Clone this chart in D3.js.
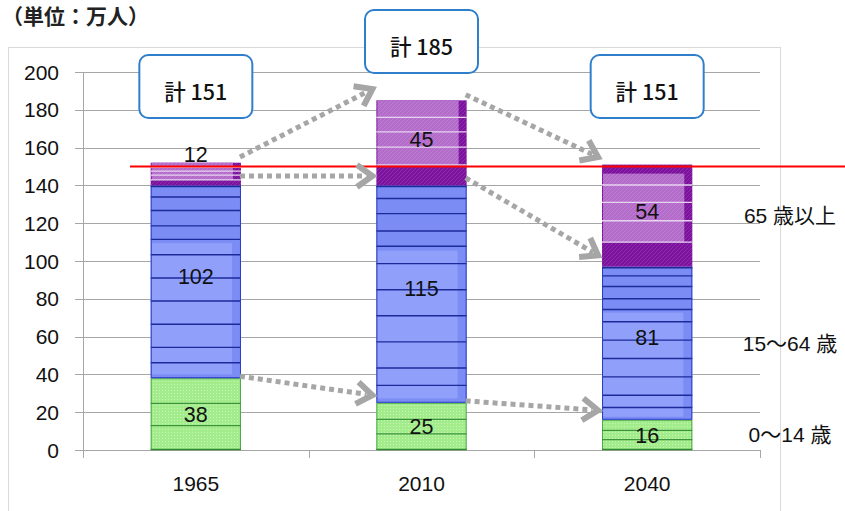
<!DOCTYPE html>
<html><head><meta charset="utf-8">
<script src="https://cdn.jsdelivr.net/npm/d3@7"></script>
<style>body{margin:0;background:#fff}svg{display:block}</style>
</head><body>
<svg id="c" width="845" height="511"></svg>
<script>
// ---- data ----
const categories = ["1965", "2010", "2040"];
const young = [38, 25, 16];        // 0～14 歳
const working = [102, 115, 81];    // 15～64 歳
const elderly = [12, 45, 54];      // 65 歳以上
const totals = [151, 185, 151];
const seriesNames = ["0～14 歳", "15～64 歳", "65 歳以上"];
const yTicks = [0, 20, 40, 60, 80, 100, 120, 140, 160, 180, 200];
const referenceValue = 150;
const unitLabel = "（単位：万人）";
const totalPrefix = "計 ";
// arrows: [from category index, from value, to category index, to value]
const arrowsData = [
  [0, 155, 1, 191],
  [0, 145, 1, 145],
  [0, 39, 1, 29],
  [1, 188, 2, 155],
  [1, 144, 2, 103],
  [1, 26, 2, 21]
];

// ---- layout ----
const svg = d3.select("#c");
const x = d3.scaleBand().domain(categories).range([83, 760]).paddingInner(0.6).paddingOuter(0.3);
const y = d3.scaleLinear().domain([0, 200]).range([450, 72]);
const numFont = "'Liberation Sans', Arial, 'Noto Sans CJK JP', sans-serif";
const cjkFont = "'Noto Sans CJK JP', 'Liberation Sans', sans-serif";

const defs = svg.append("defs");
const pg = defs.append("pattern").attr("id", "dots").attr("patternUnits", "userSpaceOnUse").attr("width", 3).attr("height", 3);
pg.append("rect").attr("width", 3).attr("height", 3).attr("fill", "#a3ec8b");
pg.append("rect").attr("width", 1).attr("height", 1).attr("fill", "#c9f6b8");
const ph = defs.append("pattern").attr("id", "hatch").attr("patternUnits", "userSpaceOnUse").attr("width", 4).attr("height", 4);
ph.append("path").attr("d", "M0,4 L4,0").attr("stroke", "#ffffff").attr("stroke-opacity", 0.12).attr("stroke-width", 1);

// chart frame
svg.append("rect").attr("x", 8.5).attr("y", 47.5).attr("width", 772).attr("height", 480)
  .attr("fill", "none").attr("stroke", "#d9d9d9");

// title
svg.append("text").attr("x", 2).attr("y", 24).attr("font-family", cjkFont).attr("font-weight", 700)
  .attr("font-size", 21).attr("fill", "#222").text(unitLabel);

// grid
svg.append("g").selectAll("line").data(yTicks).join("line")
  .attr("x1", 75).attr("x2", 760).attr("y1", d => Math.round(y(d)) + 0.5).attr("y2", d => Math.round(y(d)) + 0.5)
  .attr("stroke", "#a6a6a6").attr("stroke-width", 1);
svg.append("line").attr("x1", 83.5).attr("x2", 83.5).attr("y1", y(200)).attr("y2", 458).attr("stroke", "#a6a6a6");
const bounds = [83, ...categories.map(c => x(c) + x.bandwidth() + x.step() * 0.3)];
svg.append("g").selectAll("line").data(bounds).join("line")
  .attr("x1", d => Math.round(d) + 0.5).attr("x2", d => Math.round(d) + 0.5).attr("y1", y(0)).attr("y2", 458)
  .attr("stroke", "#a6a6a6");
svg.append("g").selectAll("text").data(yTicks).join("text")
  .attr("x", 59).attr("y", d => y(d)).attr("dy", "0.36em").attr("text-anchor", "end")
  .attr("font-family", numFont).attr("font-size", 21).attr("fill", "#111").text(d => d);
svg.append("g").selectAll("text").data(categories).join("text")
  .attr("x", d => x(d) + x.bandwidth() / 2).attr("y", 491).attr("text-anchor", "middle")
  .attr("font-family", numFont).attr("font-size", 21).attr("fill", "#111").text(d => d);

// ---- bars ----
const lineFracs = {
  young: [0.35, 0.66],
  working: [0.06, 0.13, 0.21, 0.28, 0.36, 0.48, 0.6, 0.72, 0.84, 0.92],
  elderly: [0.2, 0.37, 0.55, 0.76]
};
const gBars = svg.append("g");
categories.forEach((c, i) => {
  const x0 = x(c), w = x.bandwidth();
  const segs = [
    {key: "young", lo: 0, hi: young[i]},
    {key: "working", lo: young[i], hi: young[i] + working[i]},
    {key: "elderly", lo: young[i] + working[i], hi: young[i] + working[i] + elderly[i]}
  ];
  segs.forEach(s => {
    const yt = y(s.hi), yb = y(s.lo), h = yb - yt;
    const g = gBars.append("g");
    if (s.key === "young") {
      g.append("rect").attr("x", x0).attr("y", yt).attr("width", w).attr("height", h).attr("fill", "url(#dots)");
      g.append("rect").attr("x", x0 + 0.5).attr("y", yt + 0.5).attr("width", w - 1).attr("height", h - 1)
        .attr("fill", "none").attr("stroke", "#4aa84a").attr("stroke-width", 1);
      g.selectAll("line.l").data(lineFracs.young).join("line").attr("class", "l")
        .attr("x1", x0).attr("x2", x0 + w).attr("y1", f => yt + f * h).attr("y2", f => yt + f * h)
        .attr("stroke", "#3b953b").attr("stroke-width", 1.2);
      g.append("line").attr("x1", x0).attr("x2", x0 + w).attr("y1", yb - 0.5).attr("y2", yb - 0.5)
        .attr("stroke", "#2f8a2f").attr("stroke-width", 1.5);
    } else if (s.key === "working") {
      g.append("rect").attr("x", x0).attr("y", yt).attr("width", w).attr("height", h).attr("fill", "#7b8cf5");
      g.append("rect").attr("x", x0 + 1).attr("y", yt + h * 0.3).attr("width", w - 10).attr("height", h * 0.68)
        .attr("fill", "#90a0fa");
      g.selectAll("line.l").data(lineFracs.working).join("line").attr("class", "l")
        .attr("x1", x0).attr("x2", x0 + w).attr("y1", f => yt + f * h).attr("y2", f => yt + f * h)
        .attr("stroke", "#1d2a9a").attr("stroke-width", 1.4);
      g.append("rect").attr("x", x0 + 0.5).attr("y", yt + 0.5).attr("width", w - 1).attr("height", h - 1)
        .attr("fill", "none").attr("stroke", "#2b3cc4").attr("stroke-width", 1);
      g.append("line").attr("x1", x0).attr("x2", x0 + w).attr("y1", yt + 1).attr("y2", yt + 1)
        .attr("stroke", "#1d2a9a").attr("stroke-width", 1.5);
    } else {
      g.append("rect").attr("x", x0).attr("y", yt).attr("width", w).attr("height", h).attr("fill", "#7c129e");
      const inset = h > 90 ? 9 : 0;
      g.append("rect").attr("x", x0 + 1).attr("y", yt + inset).attr("width", w - 9)
        .attr("height", Math.max(0, h * 0.76 - inset)).attr("fill", "#b46ccb");
      g.selectAll("line.l").data(lineFracs.elderly).join("line").attr("class", "l")
        .attr("x1", x0).attr("x2", x0 + w).attr("y1", f => yt + f * h).attr("y2", f => yt + f * h)
        .attr("stroke", "#e6d2ee").attr("stroke-width", 1.3);
      g.append("rect").attr("x", x0).attr("y", yt).attr("width", w).attr("height", h).attr("fill", "url(#hatch)");
    }
  });
});

// segment value labels
const labelData = [];
categories.forEach((c, i) => {
  const cx = x(c) + x.bandwidth() / 2;
  labelData.push({x: cx, y: y(young[i] / 2), t: young[i]});
  labelData.push({x: cx, y: y(young[i] + working[i] / 2) - 6, t: working[i]});
  const top = young[i] + working[i] + elderly[i];
  const small = y(young[i] + working[i]) - y(top) < 30;
  labelData.push({x: cx, y: small ? y(top) - 8 : y(young[i] + working[i] + elderly[i] / 2) - 4, t: elderly[i]});
});
svg.append("g").selectAll("text").data(labelData).join("text")
  .attr("x", d => d.x).attr("y", d => d.y).attr("dy", "0.36em").attr("text-anchor", "middle")
  .attr("font-family", numFont).attr("font-size", 21.5).attr("fill", "#111").text(d => d.t);

// reference line
svg.append("line").attr("x1", 130).attr("x2", 845).attr("y1", y(referenceValue)).attr("y2", y(referenceValue))
  .attr("stroke", "#ff0000").attr("stroke-width", 2.2);

// arrows
const gA = svg.append("g").attr("stroke", "#a6a6a6").attr("fill", "none");
arrowsData.forEach(([fi, fv, ti, tv]) => {
  const x1 = x(categories[fi]) + x.bandwidth() - 1, y1 = y(fv);
  const x2 = x(categories[ti]) - 4, y2 = y(tv);
  const a = Math.atan2(y2 - y1, x2 - x1);
  const L = 19, sp = 0.62;
  gA.append("line").attr("x1", x1).attr("y1", y1).attr("x2", x2 - 6 * Math.cos(a)).attr("y2", y2 - 6 * Math.sin(a))
    .attr("stroke-width", 5).attr("stroke-dasharray", "5,4");
  const p1 = [x2 - L * Math.cos(a - sp), y2 - L * Math.sin(a - sp)];
  const p2 = [x2 - L * Math.cos(a + sp), y2 - L * Math.sin(a + sp)];
  gA.append("path").attr("d", `M${p1}L${x2},${y2}L${p2}`).attr("stroke-width", 6)
    .attr("stroke-linejoin", "miter").attr("stroke-linecap", "butt");
});

// total boxes
const bw = 113, bh = 63;
categories.forEach((c, i) => {
  const cx = x(c) + x.bandwidth() / 2;
  const top = totals[i] > 170 ? 10 : 55;
  svg.append("rect").attr("x", cx - bw / 2).attr("y", top).attr("width", bw).attr("height", bh).attr("rx", 9)
    .attr("fill", "#fff").attr("stroke", "#2f7fcc").attr("stroke-width", 2);
  svg.append("text").attr("x", cx).attr("y", top + 45).attr("text-anchor", "middle")
    .attr("font-family", cjkFont).attr("font-weight", 500).attr("font-size", 21.5).attr("fill", "#111")
    .text(totalPrefix + totals[i]);
});

// series labels at right, aligned with last bar segments
const li = categories.length - 1;
const mids = [young[li] / 2, young[li] + working[li] / 2, young[li] + working[li] + elderly[li] / 2];
svg.append("g").selectAll("text").data(seriesNames).join("text")
  .attr("x", 790).attr("y", (d, k) => y(mids[k])).attr("dy", "0.36em").attr("text-anchor", "middle")
  .attr("font-family", numFont).attr("font-size", 21).attr("fill", "#111").text(d => d);
</script>
</body></html>
